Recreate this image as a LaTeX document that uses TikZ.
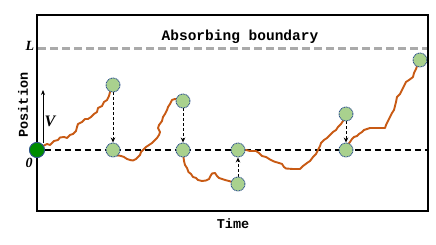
\documentclass[tikz,border=0pt]{standalone}
\usepackage{fontspec}
\setmainfont{Liberation Serif}
\setmonofont{Liberation Mono}
\usetikzlibrary{arrows.meta,backgrounds}
\definecolor{walkc}{RGB}{200,90,20}
\definecolor{dotfill}{RGB}{169,209,142}
\definecolor{dotedge}{RGB}{47,82,143}
\definecolor{origfill}{RGB}{0,140,0}
\definecolor{bndgray}{RGB}{170,170,170}
\tikzset{
  dot/.style={circle,fill=dotfill,draw=dotedge,dash pattern=on 1pt off 0.7pt,line width=0.9pt,minimum size=14pt,inner sep=0pt},
  origdot/.style={circle,fill=origfill,draw=dotedge,line width=0.8pt,minimum size=15pt,inner sep=0pt},
  walk/.style={draw=walkc,line width=1.9pt,line join=round,line cap=round},
  darr/.style={draw=black,line width=0.9pt,dash pattern=on 3pt off 2pt,-{Stealth[length=5pt,width=4.5pt]}},
  zline/.style={draw=black,line width=1.4pt,dash pattern=on 6pt off 4pt},
  bline/.style={draw=bndgray,line width=2.5pt,dash pattern=on 8pt off 4pt},
  monolab/.style={font=\ttfamily\bfseries\fontsize{13.5}{15}\selectfont,inner sep=0pt}
}
\begin{document}
\begin{tikzpicture}[x={(1pt,0)},y={(0,-1pt)}]
\useasboundingbox (0,0) rectangle (436,245);
% frame
\coordinate (fTL) at (37,14.7);
\coordinate (fBR) at (428,210.7);
% nodes
\node[origdot] (o) at (37,150) {};
\node[dot] (a1) at (113,85) {};
\node[dot] (a0) at (113,150) {};
\node[dot] (b1) at (183,101) {};
\node[dot] (b0) at (183,150) {};
\node[dot] (c0) at (238,150) {};
\node[dot] (c1) at (238,184) {};
\node[dot] (d1) at (346,114) {};
\node[dot] (d0) at (346,150) {};
\node[dot] (e) at (420,60) {};
\coordinate (zr) at (428,150);
\coordinate (lL) at (38,48.5);
\coordinate (lR) at (427,48.5);
\begin{pgfonlayer}{background}
\draw[bline] (lL) -- (lR);
\draw[zline] (o) -- (zr);
\draw[walk] (o) -- (43,146) -- (47,144) -- (50,145) -- (54,141) -- (58,140) -- (60,137.5) -- (64,137) -- (67,138) -- (70,135) -- (73,134) -- (76,131) -- (77,127) -- (78,124) -- (82,122) -- (85,119) -- (88,119) -- (91,117) -- (94,114) -- (97,112) -- (98,108) -- (102,106) -- (104,102) -- (107,100) -- (109,96) -- (110,92) -- (a1);
\draw[walk] (a0) -- (117,155) -- (121,156) -- (124,157) -- (127,159) -- (130,160) -- (133,160.5) -- (136,159) -- (138,157) -- (140,155) -- (141,152) -- (143,150) -- (146,147) -- (149,145) -- (152,143) -- (154,141) -- (157,138) -- (159,135) -- (160,132) -- (158,128) -- (159,125) -- (162,121) -- (163,117) -- (165,114) -- (167,110) -- (168,107) -- (170,104) -- (172,100) -- (175,99) -- (b1);
\draw[walk] (b0) -- (183.5,157) -- (184,161) -- (185,165) -- (187,168) -- (188.5,172) -- (191,174) -- (193,177) -- (196,178) -- (198,180) -- (202,181) -- (206,180.5) -- (209,179) -- (210.5,176) -- (212,173.5) -- (215,173) -- (217,176) -- (219,178) -- (222,179) -- (225,180) -- (229,181) -- (232,182) -- (c1);
\draw[walk] (c0) -- (246,150) -- (250,151) -- (256,151) -- (259,153) -- (262,156) -- (266,157) -- (270,159.5) -- (274,161.5) -- (279,163) -- (282,164) -- (284,167) -- (286,168.5) -- (293,169) -- (300,169) -- (303,166) -- (307,163) -- (310,161) -- (313,157) -- (316,154) -- (318,150) -- (320,146) -- (321,143) -- (324,140) -- (327,138) -- (330,135) -- (333,132) -- (336,130) -- (338,127) -- (341,124) -- (343,121) -- (d1);
\draw[walk] (d0) -- (348,145) -- (350,142) -- (352,139) -- (354,137) -- (357,136) -- (359,134) -- (362,132) -- (364,130) -- (367,129) -- (370,128) -- (376,128) -- (385,128) -- (386,125) -- (388,121) -- (390,117) -- (392,113) -- (394,110) -- (395,106) -- (396,102) -- (397,97) -- (400,94) -- (402,90) -- (404,86) -- (406,82) -- (409,80) -- (413,77) -- (414,73) -- (416,69) -- (417,66) -- (e);
\draw[darr] (a1) -- (a0);
\draw[darr] (b1) -- (b0);
\draw[darr] (c1) -- (c0);
\draw[darr] (d1) -- (d0);
\end{pgfonlayer}
\draw[line width=2pt] (fTL) rectangle (fBR);
\node[origdot] at (o) {};
% V arrow
\coordinate (vs) at (43,143);
\coordinate (ve) at (43,90);
\draw[line width=1pt,-{Stealth[length=5pt,width=4pt]}] (vs) -- (ve);
% labels
\node[inner sep=0pt,font=\bfseries\itshape\fontsize{14}{16}\selectfont] (Llab) at (30,45.5) {L};
\node[inner sep=0pt,font=\bfseries\itshape\fontsize{14}{16}\selectfont] (zlab) at (29,163) {0};
\node[inner sep=0pt,font=\bfseries\itshape\fontsize{16}{18}\selectfont] (Vlab) at (50,121) {V};
\node[monolab,rotate=90] (pos) at (23,105) {Position};
\node[monolab] (time) at (233,224) {Time};
\node[monolab,font=\ttfamily\bfseries\fontsize{14.5}{16}\selectfont] (abs) at (240,37) {Absorbing boundary};
\end{tikzpicture}
\end{document}
